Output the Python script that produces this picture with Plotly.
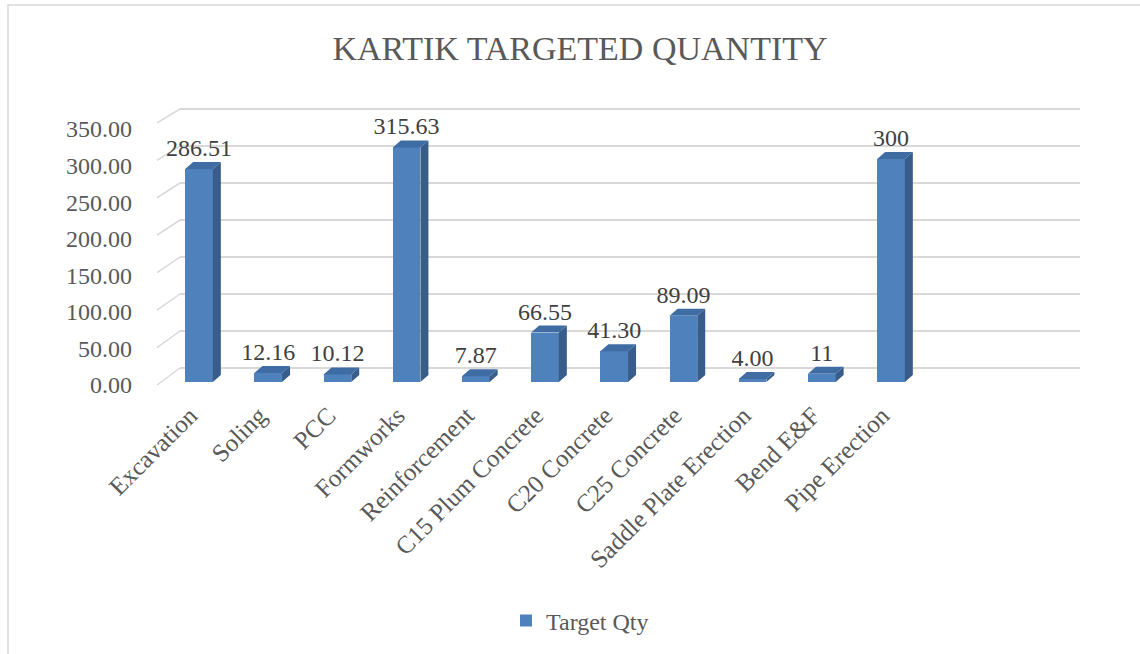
import plotly.graph_objects as go

# ---------------- data ----------------
categories = ["Excavation", "Soling", "PCC", "Formworks", "Reinforcement",
              "C15 Plum Concrete", "C20 Concrete", "C25 Concrete",
              "Saddle Plate Erection", "Bend E&F", "Pipe Erection"]
target_qty = [286.51, 12.16, 10.12, 315.63, 7.87, 66.55, 41.30, 89.09, 4.00, 11, 300]
label_text = ["286.51", "12.16", "10.12", "315.63", "7.87", "66.55", "41.30",
              "89.09", "4.00", "11", "300"]
y_ticks = [0, 50, 100, 150, 200, 250, 300, 350]
series_name = "Target Qty"
title_text = "KARTIK TARGETED QUANTITY"

# ---------------- layout helpers ----------------
W, H = 1140, 654
def fx(px):
    return px / W
def fy(px):
    return 1 - px / H

TOP, BOT = 100, 395          # shared vertical domain (px)
def rng(p0, s):
    return [(p0 - BOT) / s, (p0 - TOP) / s]

FONT = "Liberation Serif"
FRONT = "#4F81BD"
SIDE = "#385D8A"
TOPC = "#3F6CA3"
GRID = "#D9D9D9"

bar_s, bar_p0 = 0.743, 382
grid_s, grid_p0 = 0.74, 368
lab_s, lab_p0 = 0.7314, 385

cat_w = 69.2
x2_lo = (157 - 199) / cat_w
x2_hi = (1072 - 199) / cat_w
bw = 0.4
dx = 8 / cat_w
dy = 7 / bar_s
label_shift = 9 / cat_w

idx = list(range(len(categories)))

fig = go.Figure()

fig.add_trace(go.Bar(x=idx, y=target_qty, width=bw, marker=dict(color=FRONT, line=dict(width=0)),
                     name=series_name, xaxis="x2", yaxis="y2", showlegend=True))

side_x, side_y, top_x, top_y = [], [], [], []
for i, v in zip(idx, target_qty):
    r = i + bw / 2
    l = i - bw / 2
    side_x += [r, r + dx, r + dx, r, r, None]
    side_y += [0, dy, v + dy, v, 0, None]
    top_x += [l, r, r + dx, l + dx, l, None]
    top_y += [v, v, v + dy, v + dy, v, None]

fig.add_trace(go.Scatter(x=side_x, y=side_y, mode="lines", fill="toself", fillcolor=SIDE,
                         line=dict(width=0, color=SIDE), xaxis="x2", yaxis="y2",
                         showlegend=False, hoverinfo="skip"))
fig.add_trace(go.Scatter(x=top_x, y=top_y, mode="lines", fill="toself", fillcolor=TOPC,
                         line=dict(width=0, color=TOPC), xaxis="x2", yaxis="y2",
                         showlegend=False, hoverinfo="skip"))

fig.add_trace(go.Scatter(x=idx, y=[v + dy for v in target_qty], mode="text", text=label_text,
                         textposition="top center",
                         textfont=dict(family=FONT, size=24, color="#404040"),
                         xaxis="x2", yaxis="y2", showlegend=False, hoverinfo="skip",
                         cliponaxis=False))

# invisible trace so the tick-label axis is drawn
fig.add_trace(go.Scatter(x=[x2_lo] * len(y_ticks), y=y_ticks, mode="markers",
                         marker=dict(opacity=0), xaxis="x2", yaxis="y3",
                         showlegend=False, hoverinfo="skip"))

shapes = []
for v in y_ticks:
    front_px = 385 - 0.749 * v
    y_front = (grid_p0 - front_px) / grid_s
    shapes.append(dict(type="line", xref="paper", yref="y", x0=fx(157), x1=fx(180),
                       y0=y_front, y1=v, line=dict(color=GRID, width=1.5), layer="below"))
shapes.append(dict(type="rect", xref="paper", yref="paper", x0=fx(8), x1=fx(1160),
                   y0=fy(664), y1=fy(5), line=dict(color=GRID, width=1.5)))

fig.update_layout(
    template="none",
    width=W, height=H,
    margin=dict(l=0, r=0, t=0, b=0, pad=0),
    paper_bgcolor="white", plot_bgcolor="rgba(0,0,0,0)",
    font=dict(family=FONT, color="#595959"),
    title=dict(text=title_text, x=fx(580), y=fy(48), xanchor="center", yanchor="middle",
               font=dict(family=FONT, size=34, color="#595959")),
    xaxis=dict(domain=[fx(180), fx(1080)], range=[0, 1], showgrid=False, zeroline=False,
               showticklabels=False, showline=False, anchor="y", fixedrange=True,
               automargin=False, ticks=""),
    yaxis=dict(domain=[fy(BOT), fy(TOP)], range=rng(grid_p0, grid_s), tick0=0, dtick=50,
               showgrid=True, gridcolor=GRID, gridwidth=1.5, zeroline=False,
               showticklabels=False, showline=False, anchor="x", automargin=False, ticks=""),
    xaxis2=dict(domain=[fx(157), fx(1072)], range=[x2_lo, x2_hi], tickmode="array",
                tickvals=[i - label_shift for i in idx], ticktext=categories, tickangle=-45,
                showgrid=False, zeroline=False, showline=False, anchor="y2",
                automargin=False, ticks="",
                tickfont=dict(family=FONT, size=25, color="#595959")),
    yaxis2=dict(domain=[fy(BOT), fy(TOP)], range=rng(bar_p0, bar_s), showgrid=False,
                zeroline=False, showticklabels=False, showline=False, anchor="x2",
                automargin=False, ticks=""),
    yaxis3=dict(overlaying="y2", anchor="x2", side="left", range=rng(lab_p0, lab_s),
                tickmode="array", tickvals=y_ticks, ticktext=[f"{v:.2f}" for v in y_ticks],
                showgrid=False, zeroline=False, showline=False, ticks="",
                ticklabelstandoff=24, automargin=False,
                tickfont=dict(family=FONT, size=24, color="#595959")),
    legend=dict(orientation="h", x=fx(506), y=fy(621), xanchor="left", yanchor="middle",
                font=dict(family=FONT, size=24, color="#595959"), bgcolor="rgba(0,0,0,0)"),
    shapes=shapes,
    bargap=0,
)

fig.write_html("out.html", config={"displayModeBar": False},
               post_script="document.body.style.margin='0';document.body.style.overflow='hidden';")
